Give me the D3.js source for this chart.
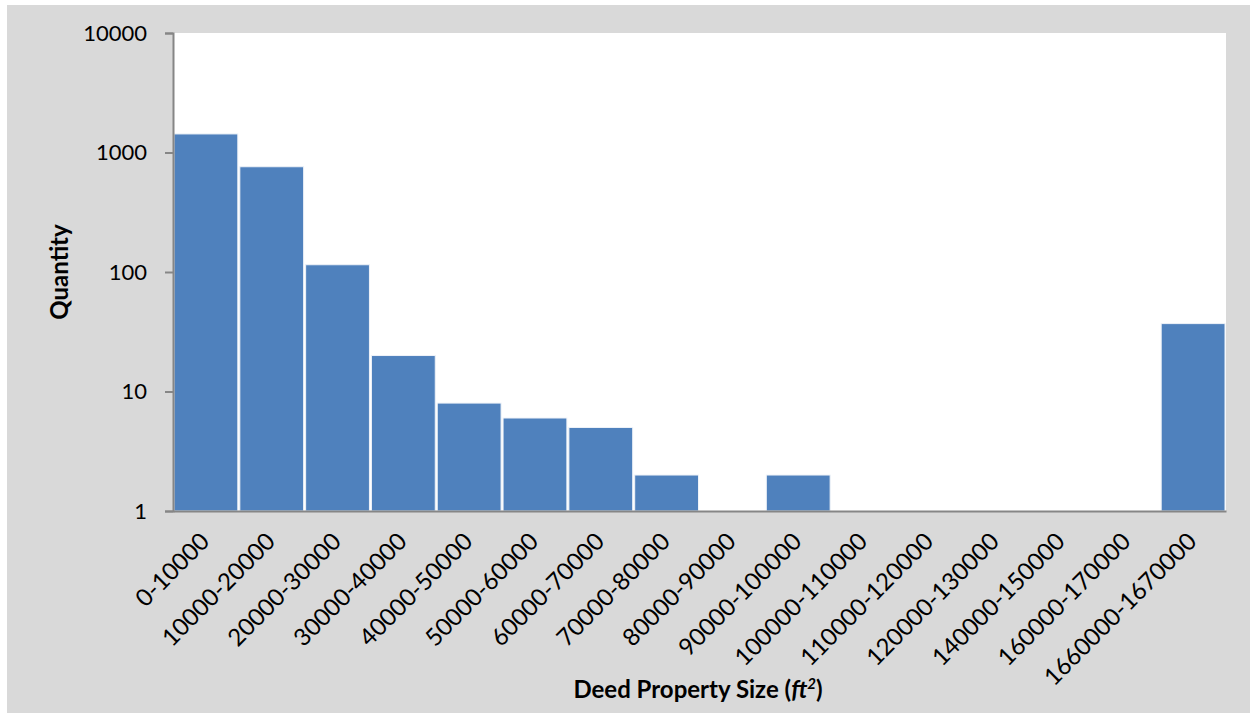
<!DOCTYPE html>
<html>
<head>
<meta charset="utf-8">
<script src="https://cdn.jsdelivr.net/npm/d3@7/dist/d3.min.js"></script>
<style>
  html, body { margin: 0; padding: 0; background: #ffffff; }
  svg { display: block; }
  text { font-family: "Lato", "Open Sans", sans-serif; fill: #000; }
</style>
</head>
<body>
<svg id="chart" width="1250" height="713"></svg>
<script>
// Property size bins (square feet) and the number of deeds in each
const categories = [
  "0-10000", "10000-20000", "20000-30000", "30000-40000", "40000-50000",
  "50000-60000", "60000-70000", "70000-80000", "80000-90000", "90000-100000",
  "100000-110000", "110000-120000", "120000-130000", "140000-150000",
  "160000-170000", "1660000-1670000"
];
const quantities = [1430, 760, 115, 20, 8, 6, 5, 2, 0, 2, 0, 0, 0, 0, 0, 37];
const yTickValues = [1, 10, 100, 1000, 10000];

const svg = d3.select("#chart");
const W = 1250, H = 713;

// grey chart background with a thin white margin on the top and left
svg.append("rect").attr("x", 7).attr("y", 5).attr("width", W - 7).attr("height", H - 5)
  .attr("fill", "#d9d9d9");

const plot = { left: 173, top: 33, right: 1226, bottom: 511 };

svg.append("rect")
  .attr("x", plot.left).attr("y", plot.top)
  .attr("width", plot.right - plot.left).attr("height", plot.bottom - plot.top)
  .attr("fill", "#ffffff");

const x = d3.scaleBand().domain(categories).range([plot.left, plot.right]).padding(0);
const y = d3.scaleLog().domain([1, 10000]).range([plot.bottom, plot.top]);

const data = categories.map((c, i) => ({ c, v: quantities[i] }));

// bars (empty bins are not drawn on the log scale)
svg.append("g").selectAll("rect")
  .data(data.filter(d => d.v >= 1))
  .join("rect")
  .attr("x", d => x(d.c) + 1)
  .attr("y", d => y(d.v))
  .attr("width", x.bandwidth() - 2)
  .attr("height", d => plot.bottom - y(d.v))
  .attr("fill", "#4f81bd")
  .attr("stroke", "#eef2f8")
  .attr("stroke-width", 1);

// y axis
const yAxis = d3.axisLeft(y)
  .tickValues(yTickValues)
  .tickFormat(d3.format("d"))
  .tickSize(8)
  .tickPadding(18);
const gy = svg.append("g").attr("transform", `translate(${plot.left},0)`).call(yAxis);
gy.select(".domain").attr("stroke", "#868686").attr("stroke-width", 2);
gy.selectAll(".tick line").attr("stroke", "#868686").attr("stroke-width", 2);
gy.selectAll(".tick text")
  .attr("font-size", 22)
  .attr("font-family", "Lato, 'Open Sans', sans-serif")
  .attr("fill", "#000");

// x axis
const xAxis = d3.axisBottom(x).tickSize(0).tickPadding(0);
const gx = svg.append("g").attr("transform", `translate(0,${plot.bottom})`).call(xAxis);
gx.select(".domain").attr("stroke", "#868686").attr("stroke-width", 2);
gx.selectAll(".tick text")
  .attr("font-size", 24)
  .attr("font-family", "Lato, 'Open Sans', sans-serif")
  .attr("fill", "#000")
  .attr("text-anchor", "end")
  .attr("dy", "0.35em")
  .attr("transform", "translate(-1,26) rotate(-45)");

// axis titles
svg.append("text")
  .attr("transform", `translate(68,${(plot.top + plot.bottom) / 2}) rotate(-90)`)
  .attr("text-anchor", "middle")
  .attr("font-size", 24)
  .attr("font-weight", "bold")
  .text("Quantity");

const xt = svg.append("text")
  .attr("x", 698).attr("y", 698)
  .attr("text-anchor", "middle")
  .attr("font-size", 24)
  .attr("font-weight", "bold");
xt.append("tspan").text("Deed Property Size (");
xt.append("tspan").attr("font-style", "italic").text("ft");
xt.append("tspan").attr("font-style", "italic").attr("font-size", 15).attr("dy", -9).text("2");
xt.append("tspan").attr("dy", 9).text(")");
</script>
</body>
</html>
